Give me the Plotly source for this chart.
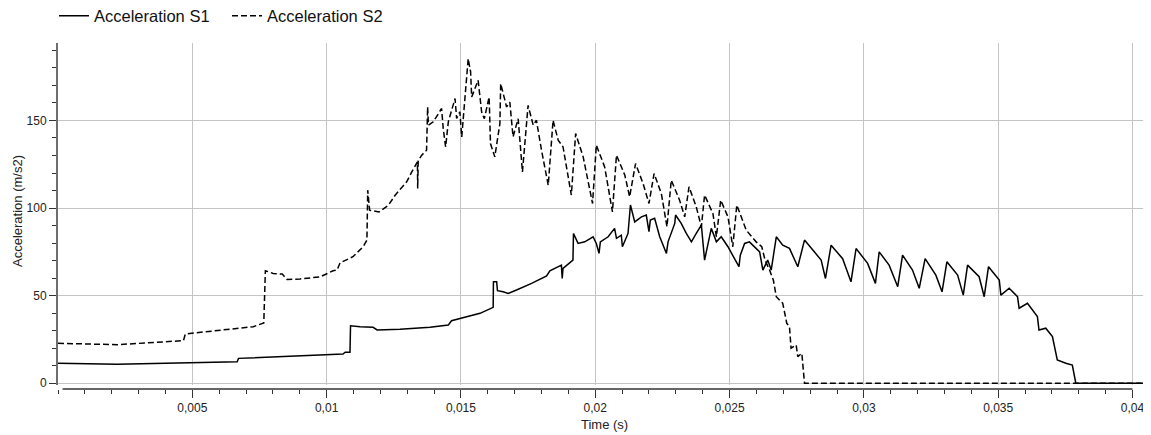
import plotly.graph_objects as go

# time (s) / acceleration (m/s2)
s1_time = [0, 0.00221, 0.00667, 0.00672, 0.01061, 0.01069, 0.01087, 0.01089, 0.01125, 0.01173,
           0.01188, 0.01273, 0.01385, 0.01453, 0.01465, 0.01521, 0.01571, 0.01620, 0.01621, 0.01633,
           0.01636, 0.01657, 0.01676, 0.01707, 0.01732, 0.01763, 0.01819, 0.01831, 0.01874, 0.01877,
           0.01880, 0.01917, 0.01919, 0.01936, 0.01961, 0.01992, 0.02004, 0.02014, 0.02019, 0.02048,
           0.02072, 0.02079, 0.02097, 0.02101, 0.02122, 0.02131, 0.02147, 0.02172, 0.02190, 0.02200,
           0.02205, 0.02221, 0.02240, 0.02265, 0.02271, 0.02296, 0.02299, 0.02320, 0.02339, 0.02358,
           0.02376, 0.02395, 0.02407, 0.02413, 0.02432, 0.02451, 0.02469, 0.02494, 0.02519, 0.02535,
           0.02540, 0.02556, 0.02574, 0.02612, 0.02624, 0.02642, 0.02655, 0.02674, 0.02698, 0.02723,
           0.02754, 0.02779, 0.02810, 0.02841, 0.02857, 0.02878, 0.02921, 0.02952, 0.02971, 0.03014,
           0.03043, 0.03057, 0.03094, 0.03126, 0.03144, 0.03181, 0.03206, 0.03228, 0.03268, 0.03291,
           0.03309, 0.03349, 0.03370, 0.03386, 0.03429, 0.03448, 0.03464, 0.03504, 0.03510, 0.03541,
           0.03572, 0.03578, 0.03609, 0.03646, 0.03652, 0.03677, 0.03702, 0.03720, 0.03752, 0.03776,
           0.03789, 0.04054]
s1_acc = [11.4, 10.8, 12.3, 14.2, 16.7, 17.7, 17.7, 32.8, 32.3, 31.9,
          30.4, 30.8, 31.9, 33.2, 35.7, 38.0, 39.9, 43.3, 57.9, 57.9,
          52.8, 52.2, 51.3, 53.2, 54.7, 57.0, 61.2, 64.2, 67.4, 59.8,
          65.6, 70.3, 85.5, 79.8, 80.7, 83.6, 79.8, 74.1, 80.7, 83.6,
          88.4, 82.7, 84.5, 77.9, 85.5, 101.7, 92.1, 95.0, 96.0, 86.5,
          93.1, 94.1, 83.6, 74.1, 80.7, 91.2, 96.0, 91.2, 85.5, 80.7,
          85.5, 90.3, 70.3, 75.0, 88.4, 80.7, 83.6, 77.9, 71.1, 66.5,
          73.1, 79.8, 80.7, 75.0, 64.6, 70.3, 64.6, 83.6, 78.8, 77.0,
          66.5, 81.7, 76.0, 70.3, 59.8, 78.8, 71.1, 57.9, 76.9, 68.4,
          57.0, 75.0, 67.4, 55.1, 73.1, 64.6, 54.2, 71.1, 61.7, 52.2,
          69.3, 61.7, 50.3, 67.4, 60.8, 49.4, 66.5, 58.9, 50.3, 54.2,
          49.4, 42.8, 45.6, 38.0, 30.4, 31.4, 26.6, 13.3, 11.4, 10.4,
          0, 0]

s2_time = [0, 0.00221, 0.00467, 0.00474, 0.00727, 0.00760, 0.00766, 0.00772, 0.00801, 0.00835,
           0.00853, 0.00901, 0.00976, 0.01024, 0.01039, 0.01050, 0.01098, 0.01136, 0.01150, 0.01153,
           0.01160, 0.01195, 0.01230, 0.01255, 0.01298, 0.01317, 0.01338, 0.01339, 0.01341, 0.01354,
           0.01372, 0.01376, 0.01379, 0.01397, 0.01428, 0.01434, 0.01443, 0.01453, 0.01478, 0.01484,
           0.01496, 0.01503, 0.01509, 0.01527, 0.01536, 0.01540, 0.01564, 0.01577, 0.01587, 0.01605,
           0.01610, 0.01626, 0.01645, 0.01648, 0.01670, 0.01682, 0.01694, 0.01713, 0.01729, 0.01750,
           0.01769, 0.01781, 0.01800, 0.01825, 0.01843, 0.01862, 0.01880, 0.01911, 0.01927, 0.01955,
           0.01990, 0.02004, 0.02035, 0.02064, 0.02079, 0.02110, 0.02128, 0.02150, 0.02178, 0.02200,
           0.02219, 0.02246, 0.02267, 0.02283, 0.02314, 0.02333, 0.02349, 0.02376, 0.02395, 0.02407,
           0.02438, 0.02451, 0.02467, 0.02494, 0.02512, 0.02527, 0.02562, 0.02581, 0.02599, 0.02620,
           0.02632, 0.02649, 0.02663, 0.02674, 0.02686, 0.02698, 0.02713, 0.02723, 0.02729, 0.02748,
           0.02754, 0.02769, 0.02779, 0.04054]
s2_acc = [22.8, 22.0, 24.3, 28.1, 32.3, 34.2, 34.4, 64.2, 62.7, 62.3,
          59.2, 59.5, 60.7, 64.2, 64.6, 68.7, 72.2, 77.9, 81.7, 110.2,
          98.8, 97.8, 101.6, 107.3, 115.0, 120.6, 126.3, 111.2, 127.0, 130.2,
          133.0, 157.7, 147.3, 149.2, 156.8, 145.4, 134.9, 149.2, 162.5, 151.1,
          154.9, 140.6, 153.0, 185.3, 177.7, 163.4, 172.9, 154.9, 151.0, 163.4,
          136.8, 129.2, 148.2, 171.0, 157.7, 160.5, 140.6, 151.0, 120.6, 158.6,
          147.3, 150.1, 133.0, 113.0, 150.1, 138.7, 135.0, 107.4, 142.5, 129.2,
          102.6, 135.9, 123.5, 97.8, 130.2, 118.8, 106.4, 125.4, 114.0, 102.6,
          119.7, 108.3, 89.3, 115.9, 104.5, 95.0, 112.1, 100.7, 89.3, 107.4,
          96.9, 83.6, 104.5, 95.0, 77.9, 101.7, 87.4, 83.6, 80.7, 77.9,
          70.3, 64.6, 58.9, 49.4, 47.5, 45.6, 34.2, 32.3, 20.0, 21.8,
          15.2, 17.1, 0, 0]

x_tick_vals = [0.005, 0.01, 0.015, 0.02, 0.025, 0.03, 0.035, 0.04]
x_tick_text = ['0,005', '0,01', '0,015', '0,02', '0,025', '0,03', '0,035', '0,04']
y_tick_vals = [0, 50, 100, 150]

x_range = [0, 0.04054]
y_range = [-1, 194.2]

font = 'Liberation Sans, Arial, sans-serif'
axis_grey = '#6e6e6e'

# the page body keeps its default 8px margin, so the figure is 8px smaller each way
fig_w, fig_h = 1151 - 8, 435 - 8
m_l, m_r, m_t, m_b = 50, 4, 35, 46
plot_w = fig_w - m_l - m_r
plot_h = fig_h - m_t - m_b

fig = go.Figure()
fig.add_trace(go.Scatter(x=s1_time, y=s1_acc, mode='lines', name='Acceleration S1',
                         line=dict(color='black', width=1.5)))
fig.add_trace(go.Scatter(x=s2_time, y=s2_acc, mode='lines', name='Acceleration S2',
                         line=dict(color='black', width=1.5, dash='6px,3px')))

# x axis line starts a little right of the y axis and stops at the last tick
fig.add_shape(type='line', xref='x', yref='paper', x0=0.00017, x1=x_tick_vals[-1], y0=0, y1=0,
              line=dict(color='#333333', width=1.5))

# axis titles as annotations (plain axis titles were misplaced with this layout)
fig.add_annotation(text='Acceleration (m/s2)', xref='paper', yref='paper',
                   x=-41 / plot_w, y=(plot_h - 168) / plot_h, textangle=-90,
                   xanchor='center', yanchor='middle', showarrow=False,
                   font=dict(size=13, color='#222222'))
fig.add_annotation(text='Time (s)', xref='paper', yref='paper',
                   x=0.502, y=-35 / plot_h,
                   xanchor='center', yanchor='middle', showarrow=False,
                   font=dict(size=13, color='#222222'))

fig.update_layout(
    width=fig_w, height=fig_h,
    margin=dict(l=m_l, r=m_r, t=m_t, b=m_b, autoexpand=False),
    paper_bgcolor='white', plot_bgcolor='white',
    font=dict(family=font, size=12, color='#222222'),
    showlegend=True,
    legend=dict(orientation='h', xref='container', x=46 / fig_w, xanchor='left',
                yref='paper', y=1.1286, yanchor='top',
                font=dict(size=16.5, color='#111111'), bgcolor='rgba(0,0,0,0)',
                entrywidth=128, entrywidthmode='pixels', itemwidth=30,
                borderwidth=0),
    xaxis=dict(range=x_range, anchor='free', position=0, automargin=False,
               tickmode='array', tickvals=x_tick_vals, ticktext=x_tick_text,
               ticks='outside', ticklen=8, tickwidth=1, tickcolor='#333333',
               showgrid=True, gridcolor='#c4c4c4', gridwidth=1,
               showline=False, zeroline=False,
               minor=dict(tickmode='linear', tick0=0, dtick=0.001, ticks='outside',
                          ticklen=4, tickcolor='#333333', showgrid=False),
               tickfont=dict(size=12)),
    yaxis=dict(range=y_range, domain=[0.0116, 1], automargin=False,
               tickmode='array', tickvals=y_tick_vals,
               ticks='outside', ticklen=7, tickwidth=1, tickcolor='#333333',
               showgrid=True, gridcolor='#c4c4c4', gridwidth=1,
               showline=True, linecolor=axis_grey, linewidth=2,
               zeroline=False,
               minor=dict(tickmode='linear', tick0=0, dtick=10, ticks='outside',
                          ticklen=4, tickcolor='#333333', showgrid=False),
               tickfont=dict(size=12)),
)

fig.write_html('out.html', config={'displayModeBar': False})
